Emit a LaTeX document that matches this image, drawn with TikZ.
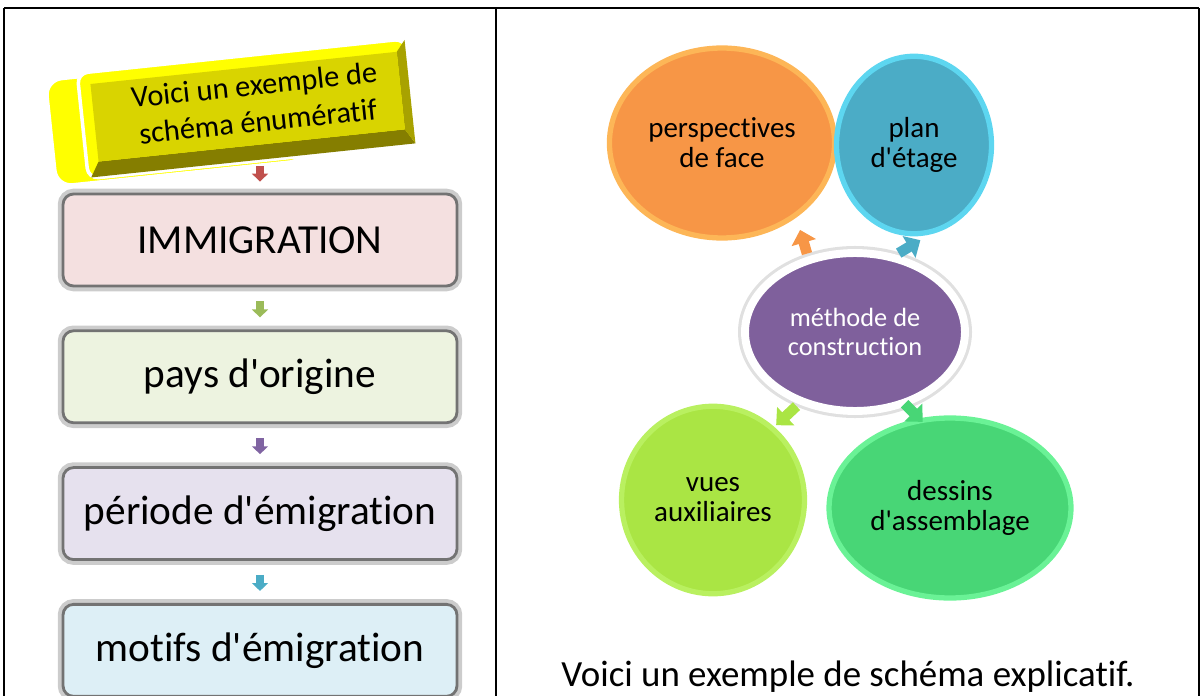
\documentclass[tikz,border=0pt]{standalone}
\usepackage{fontspec}
\setmainfont{Carlito}[Ligatures={NoCommon}]
\usetikzlibrary{
  positioning,
  arrows.meta,
  shapes.geometric
}
\definecolor{immbg}{HTML}{F4E0E0}
\definecolor{origbg}{HTML}{EDF3E0}
\definecolor{perbg}{HTML}{E6E1EE}
\definecolor{motbg}{HTML}{DDEFF6}
\definecolor{arrred}{HTML}{C0504D}
\definecolor{arrgreen}{HTML}{9BBB59}
\definecolor{arrpurple}{HTML}{8064A2}
\definecolor{arrblue}{HTML}{4BACC6}
\definecolor{titleyel}{HTML}{FFFF00}
\definecolor{titleface}{HTML}{D9D400}
\definecolor{titleside}{HTML}{A8A200}
\definecolor{titledark}{HTML}{857E00}
\definecolor{orgfill}{HTML}{F79646}
\definecolor{orgrim}{HTML}{FDB657}
\definecolor{bluefill}{HTML}{4BACC6}
\definecolor{bluerim}{HTML}{5DD6F0}
\definecolor{purpfill}{HTML}{7F609C}
\definecolor{limefill}{HTML}{AAE544}
\definecolor{limerim}{HTML}{B9F060}
\definecolor{greenfill}{HTML}{48D676}
\definecolor{greenrim}{HTML}{6AF296}
\newcommand{\apos}{\textquotesingle}
\tikzset{
  listbox/.style={
    draw=black!55, line width=1.6pt, rounded corners=6pt,
    preaction={draw=black!20, line width=6pt},
    minimum width=7.88cm, minimum height=1.84cm,
    font=\fontsize{23.5}{28}\selectfont, align=center
  },
  flowarrow/.style={
    line width=4.5pt, -{Triangle[width=9pt,length=4.5pt]}
  },
  circnode/.style={
    ellipse, line width=3pt, align=center,
    font=\fontsize{16.5}{17}\selectfont
  },
  ringarrow/.style={
    line width=6pt, -{Triangle[width=14pt,length=7.5pt]}
  }
}

\begin{document}
\begin{tikzpicture}[x=0.02cm, y=-0.02cm, node distance=0.84cm]
  \useasboundingbox (0,0) rectangle (1204,696);

  % table frame
  \draw[line width=0.8pt] (4,8) -- (1199,8);
  \draw[line width=0.8pt] (4,8) -- (4,696);
  \draw[line width=0.8pt] (496,8) -- (496,696);
  \draw[line width=0.8pt] (1199,8) -- (1199,696);

  % yellow title block
  \begin{scope}[rotate around={6:(245,110)}]
    \draw[white, line width=1.5pt, fill=titleyel, rounded corners=9pt] (50,60) rectangle (300,166);
    \draw[white, line width=2pt, fill=titleyel, rounded corners=6pt] (82,56) rectangle (412,162);
    \fill[titledark] (94,146) -- (402,146) -- (411,161) -- (85,161) -- cycle;
    \fill[titleside] (402,68) -- (411,57) -- (411,161) -- (402,146) -- cycle;
    \fill[titleface] (94,68) rectangle (402,146);
  \end{scope}
  \node[rotate=6, align=center, font=\fontsize{17.3}{21}\selectfont] (title) at (256,103) {Voici un exemple de\\schéma énumératif};

  % enumerative list
  \node[listbox, fill=immbg] (immig) at (260,240) {IMMIGRATION};
  \node[listbox, fill=origbg, below=of immig] (origine) {pays d\apos origine};
  \node[listbox, fill=perbg, below=of origine] (periode) {période d\apos émigration};
  \node[listbox, fill=motbg, below=of periode] (motifs) {motifs d\apos émigration};

  \coordinate (titlefoot) at (260,160);
  \draw[flowarrow, arrred, shorten <=0.12cm, shorten >=0.22cm] (titlefoot) -- (immig);
  \draw[flowarrow, arrgreen, shorten <=0.28cm, shorten >=0.24cm] (immig) -- (origine);
  \draw[flowarrow, arrpurple, shorten <=0.28cm, shorten >=0.24cm] (origine) -- (periode);
  \draw[flowarrow, arrblue, shorten <=0.28cm, shorten >=0.24cm] (periode) -- (motifs);

  % explanatory diagram
  \node[circnode, fill=orgfill, draw=orgrim, minimum width=4.4cm, minimum height=3.8cm] (persp) at (722,143) {perspectives\\de face};
  \node[circnode, fill=bluefill, draw=bluerim, minimum width=3.1cm, minimum height=3.55cm] (plan) at (914,145) {plan\\d\apos étage};
  \node[circnode, fill=purpfill, draw=white, line width=4.5pt, preaction={draw=black!12, line width=8pt},
        text=white, font=\fontsize{15}{17}\selectfont, minimum width=4.4cm, minimum height=3.16cm] (meth) at (855,332) {méthode de\\construction};
  \node[circnode, fill=limefill, draw=limerim, minimum width=3.65cm, minimum height=3.75cm] (vues) at (713,500) {vues\\auxiliaires};
  \node[circnode, fill=greenfill, draw=greenrim, minimum width=4.1cm, minimum height=3.6cm] (dessins) at (950,508) {dessins\\d\apos assemblage};

  \draw[ringarrow, orgfill, shorten <=0.06cm, shorten >=0.26cm] (meth.122) -- (persp.-45);
  \draw[ringarrow, bluefill, shorten <=0.06cm, shorten >=0.22cm] (meth.62) -- (plan.-80);
  \draw[ringarrow, limefill, shorten <=0.06cm, shorten >=0.05cm] (meth.-128) -- (vues.50);
  \draw[ringarrow, greenfill, shorten <=-0.06cm, shorten >=-0.1cm] (meth.-55) -- (dessins.109);

  \node[font=\fontsize{21}{25}\selectfont] (caption) at (848,677) {Voici un exemple de schéma explicatif.};
\end{tikzpicture}
\end{document}
